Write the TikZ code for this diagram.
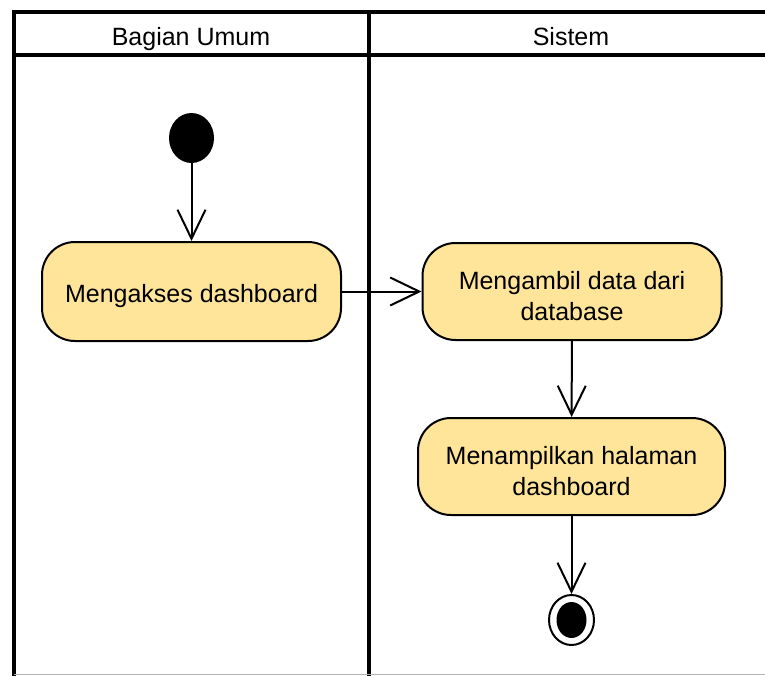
\documentclass[tikz,border=0pt]{standalone}
\usepackage{fontspec}
\setmainfont{Liberation Sans}
\usetikzlibrary{arrows.meta,shapes.geometric}
\definecolor{actfill}{HTML}{FFE599}
\begin{document}
\begin{tikzpicture}[x=1pt,y=-1pt,
  lane/.style={line width=4pt,line cap=rect},
  action/.style={draw,line width=2pt,fill=actfill,rounded corners=33pt,inner sep=0pt},
  acttext/.style={align=center,font=\fontsize{25}{31}\selectfont,inner sep=0pt,yshift=-4.5pt},
  lanetitle/.style={font=\fontsize{25}{30}\selectfont,inner sep=0pt,anchor=base},
  flow/.style={line width=2pt,-{Straight Barb[length=29pt,width=28pt,line width=2pt]}}]
\useasboundingbox (0,0) rectangle (765,675);
\fill[white] (0,0) rectangle (765,675);

% swimlane frame
\draw[lane] (765,12) -- (14,12) -- (14,675);
\draw[lane] (14,55) -- (765,55);
\draw[lane] (368.5,12) -- (368.5,675);
\draw[gray!60,line width=1pt] (14,674) -- (765,674);

\node[lanetitle] (laneA) at (191,45.5) {Bagian Umum};
\node[lanetitle] (laneB) at (571,45.5) {Sistem};

% start node
\node[ellipse,fill=black,minimum width=45pt,minimum height=50pt,inner sep=0pt] (start) at (191.5,138) {};

% actions
\node[action,minimum width=299pt,minimum height=99pt] (a1) at (191.5,291.5) {};
\node[acttext] (t1) at (a1.center) {Mengakses dashboard};
\node[action,minimum width=299pt,minimum height=97pt] (a2) at (572,291.5) {};
\node[acttext] (t2) at (a2.center) {Mengambil data dari\\database};
\node[action,minimum width=307pt,minimum height=97pt] (a3) at (571.5,466.5) {};
\node[acttext] (t3) at (a3.center) {Menampilkan halaman\\dashboard};

% end node
\node[ellipse,draw,line width=2pt,fill=white,minimum width=45pt,minimum height=50pt,inner sep=0pt] (final) at (571.5,620) {};
\node[ellipse,fill=black,minimum width=30pt,minimum height=36pt,inner sep=0pt] (finaldot) at (final.center) {};

% flows
\draw[flow] (start) -- (a1);
\draw[flow] (a1) -- (a2);
\draw[flow] (a2) -- (a3);
\draw[flow] (a3) -- (final);
\end{tikzpicture}
\end{document}
